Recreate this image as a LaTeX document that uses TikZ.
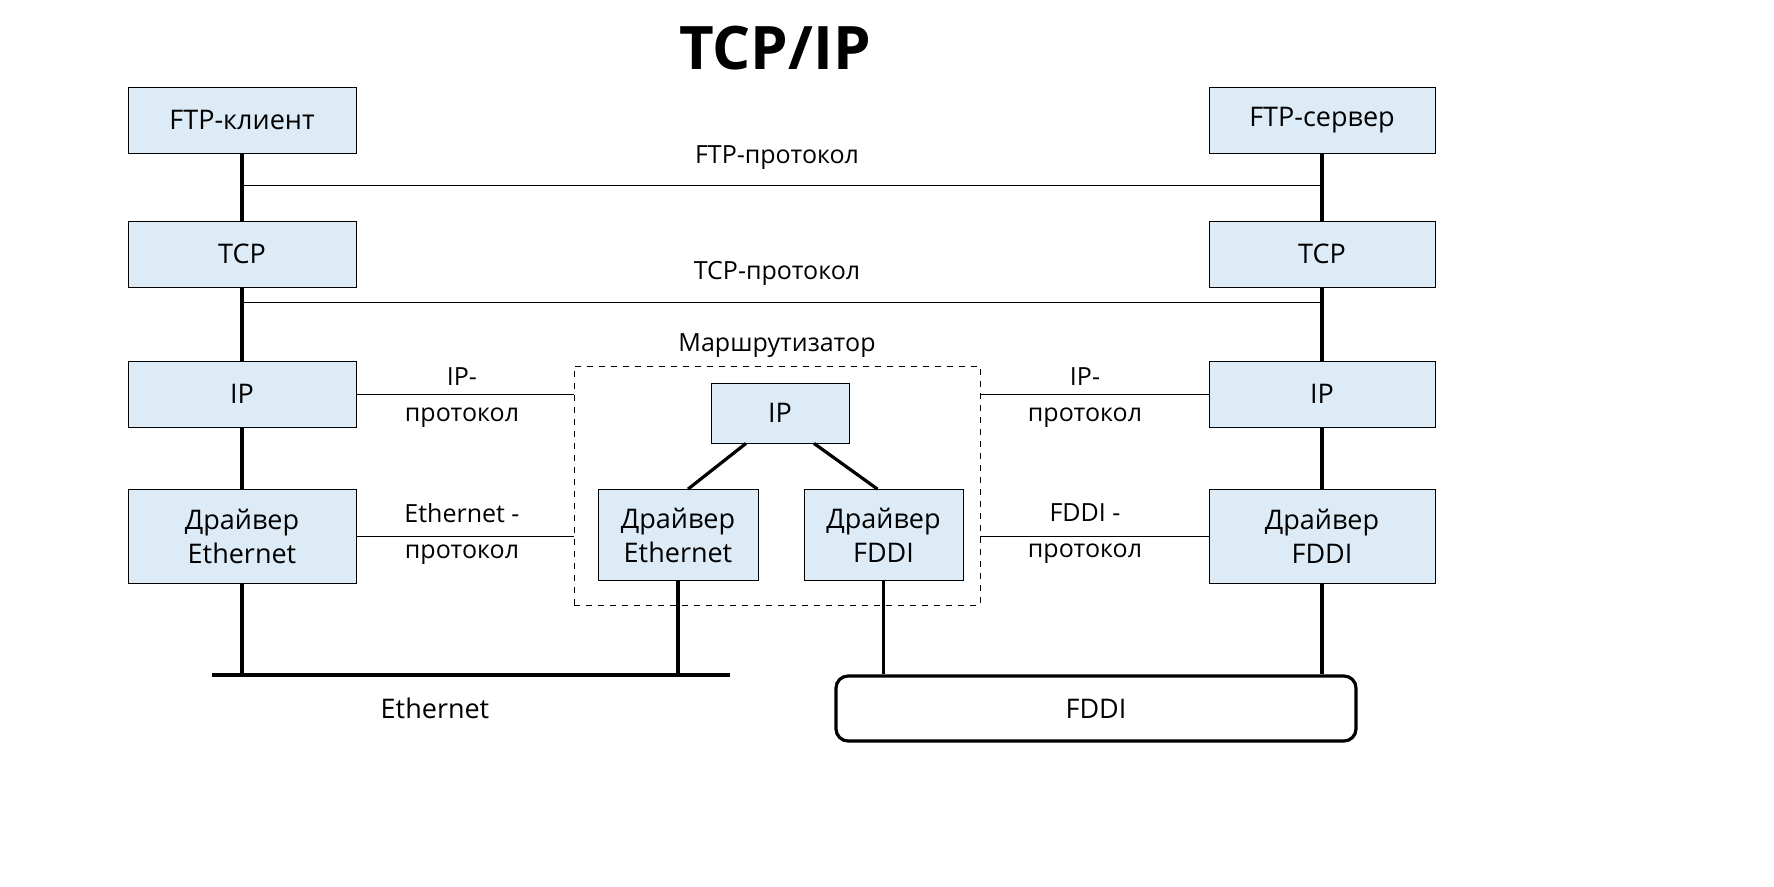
\documentclass[tikz,border=0pt]{standalone}
\usepackage{fontspec}
\setmainfont{Open Sans}
\usetikzlibrary{positioning}
\definecolor{boxfill}{HTML}{DCEBF6}
\tikzset{
    box/.style = {draw=black, fill=boxfill, thin, align=center, font=\fontsize{13.5}{17}\selectfont, inner sep=0pt},
    lbox/.style = {box, minimum width=114pt, minimum height=33pt},
    dbox/.style = {box, minimum width=114pt, minimum height=47pt},
    lbl/.style = {align=center, font=\fontsize{12.5}{18}\selectfont},
    stack/.style = {line width=1.6pt},
    proto/.style = {thin}
}
\begin{document}
\begin{tikzpicture}[x=0.5pt, y=-0.5pt]
    \useasboundingbox (0,0) rectangle (1774,887);
    \node [font=\bfseries\fontsize{30}{36}\selectfont] (title) at (775,48) {TCP/IP};
    % left stack
    \node [lbox] (ftpc) at (242,120) {FTP-клиент};
    \node [lbox] (tcpl) at (242,254) {TCP};
    \node [lbox] (ipl)  at (242,394) {IP};
    \node [dbox] (drvl) at (242,536) {Драйвер\\Ethernet};
    % right stack
    \node [lbox, minimum width=113pt] (ftps) at (1322,120) {FTP-сервер};
    \node [lbox, minimum width=113pt] (tcpr) at (1322,254) {TCP};
    \node [lbox, minimum width=113pt] (ipr)  at (1322,394) {IP};
    \node [dbox, minimum width=113pt] (drvr) at (1322,536) {Драйвер\\FDDI};
    % router
    \node [draw, dashed, thin, minimum width=203pt, minimum height=119.5pt] (router) at (777,485.5) {};
    \node [lbl] at (777,346) {Маршрутизатор};
    \node [box, minimum width=69pt, minimum height=30pt] (ipm) at (780,413) {IP};
    \node [box, minimum width=80pt, minimum height=45.5pt] (drve) at (678,535) {Драйвер\\Ethernet};
    \node [box, minimum width=79.5pt, minimum height=45.5pt] (drvf) at (883.5,535) {Драйвер\\FDDI};
    % media
    \coordinate (ethA) at (212,675);
    \coordinate (ethB) at (730,675);
    \node [draw, line width=1.6pt, rounded corners=6pt, minimum width=260pt, minimum height=32.5pt, font=\fontsize{13.5}{17}\selectfont] (fddi) at (1096,708.5) {FDDI};
    \node [lbl, font=\fontsize{13.5}{17}\selectfont] (ethlbl) at (435,708) {Ethernet};
    % stack lines
    \draw [stack] (ftpc) -- (tcpl) -- (ipl) -- (drvl) -- (drvl |- ethA);
    \draw [stack] (ftps) -- (tcpr) -- (ipr) -- (drvr) -- (drvr |- fddi.north);
    \draw [stack] (ethA) -- (ethB);
    \draw [stack] (drve) -- (drve |- ethA);
    \draw [stack] (drvf) -- (drvf |- fddi.north);
    \draw [stack] ([xshift=-17pt]ipm.south) -- ([xshift=5pt]drve.north);
    \draw [stack] ([xshift=17pt]ipm.south) -- ([xshift=-3pt]drvf.north);
    % protocols
    \draw [proto] (242,185) -- (1322,185);
    \node [lbl] at (777,158) {FTP-протокол};
    \draw [proto] (242,302) -- (1322,302);
    \node [lbl] at (777,273) {TCP-протокол};
    \draw [proto] (ipl.east) -- (router.west |- ipl.east);
    \node [lbl] at (462,398) {IP-\\протокол};
    \draw [proto] (router.east |- ipr.east) -- (ipr.west);
    \node [lbl] at (1085,398) {IP-\\протокол};
    \draw [proto] (drvl.east) -- (router.west |- drvl.east);
    \node [lbl] at (462,534) {Ethernet -\\протокол};
    \draw [proto] (router.east |- drvr.east) -- (drvr.west);
    \node [lbl] at (1085,534) {FDDI -\\протокол};
\end{tikzpicture}
\end{document}
